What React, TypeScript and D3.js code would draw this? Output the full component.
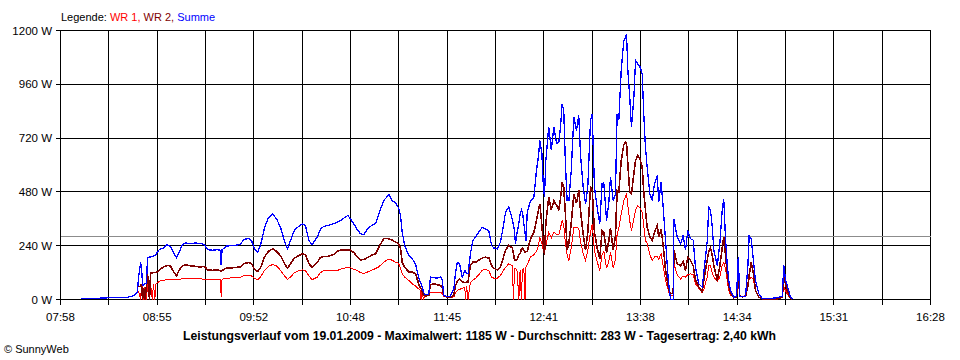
import React from "react";
import * as d3 from "d3";

// ---- data ----
const yTicks = [0, 240, 480, 720, 960, 1200];
const xTickLabels = ["07:58", "08:55", "09:52", "10:48", "11:45", "12:41", "13:38", "14:34", "15:31", "16:28"];
const axisStart = 478; // minutes since midnight (07:58)
const axisEnd = 988; // 16:28
const average = 283;
const title =
  "Leistungsverlauf vom 19.01.2009 - Maximalwert: 1185 W - Durchschnitt: 283 W - Tagesertrag: 2,40 kWh";
const legendParts = [
  { text: "Legende: ", color: "#000000" },
  { text: "WR 1, ", color: "#ff0000" },
  { text: "WR 2, ", color: "#800000" },
  { text: "Summe", color: "#0000ff" },
];

// time in minutes since midnight
const times = [
  490.3, 495.6, 501.4, 507.3, 513.2, 517.3, 520.2, 522.0, 523.1, 523.7, 524.9, 525.5, 526.1, 526.7, 527.5, 528.4,
  529.0, 530.2, 530.8, 531.8, 532.5, 533.3, 534.0, 535.4, 536.6, 538.4, 540.5, 542.5, 544.2, 546.0, 547.5, 549.5,
  551.3, 554.2, 557.1, 560.1, 562.4, 564.2, 567.1, 570.0, 571.8, 572.2, 572.7, 575.3, 579.4, 583.5, 585.3, 588.2,
  590.0, 591.7, 593.5, 595.2, 597.6, 599.9, 602.3, 604.6, 607.0, 609.3, 611.1, 612.8, 615.2, 617.5, 619.9, 621.6,
  623.6, 625.5, 628.5, 630.4, 632.2, 634.5, 638.0, 640.4, 642.1, 644.5, 646.4, 648.0, 649.9, 652.1, 653.9, 655.8,
  658.7, 660.9, 662.7, 664.6, 667.5, 669.1, 670.5, 672.4, 674.4, 676.1, 677.3, 678.3, 679.8, 682.2, 684.2, 686.1,
  687.7, 688.7, 689.4, 689.9, 690.8, 691.4, 692.0, 693.9, 694.9, 696.8, 698.8, 700.8, 701.8, 702.7, 704.7, 706.6,
  708.6, 709.6, 710.6, 711.9, 713.5, 715.0, 715.4, 716.0, 716.9, 718.3, 719.7, 721.3, 723.2, 725.2, 727.1, 729.1,
  730.7, 732.0, 734.0, 735.9, 737.3, 738.9, 740.8, 742.8, 743.6, 744.1, 744.7, 745.7, 746.7, 747.4, 748.2, 748.8,
  749.6, 750.3, 750.9, 751.6, 753.5, 755.5, 757.0, 758.2, 759.0, 760.2, 761.0, 761.7, 762.5, 764.2, 765.7, 767.2,
  768.8, 770.1, 771.1, 772.1, 773.0, 774.0, 775.0, 776.0, 777.4, 778.9, 780.5, 781.8, 782.8, 784.4, 785.8, 787.1,
  788.7, 789.7, 791.0, 792.6, 794.1, 795.5, 796.5, 798.1, 799.4, 800.4, 802.0, 803.3, 804.3, 805.3, 806.7, 808.2,
  809.2, 809.8, 810.6, 811.7, 812.7, 814.1, 815.1, 816.4, 817.6, 819.0, 819.9, 820.9, 821.9, 823.5, 824.9, 826.2,
  827.8, 828.7, 830.1, 831.3, 832.7, 834.0, 834.7, 835.6, 837.2, 837.6, 839.5, 841.5, 843.0, 844.4, 845.7, 847.3,
  848.9, 850.2, 852.2, 854.2, 855.1, 857.1, 858.0, 859.0, 860.0, 861.0, 863.0, 864.5, 865.9, 866.8, 867.8, 868.8,
  869.8, 870.8, 872.7, 874.3, 875.3, 876.2, 877.6, 879.6, 880.9, 881.7, 882.9, 884.1, 885.4, 887.4, 889.3, 894.2,
  898.1, 901.1, 902.0, 903.0, 904.0, 904.9, 905.9, 907.1,
];

// Summe (blue)
const summe = [
  4, 6, 6, 8, 8, 10, 15, 22, 35, 95, 160, 150, 62, 65, 70, 70,
  185, 190, 190, 192, 195, 198, 200, 219, 225, 228, 244, 235, 211, 186, 210, 245,
  252, 250, 252, 250, 245, 222, 220, 222, 220, 152, 222, 238, 241, 245, 268, 272,
  262, 226, 211, 240, 320, 365, 382, 360, 322, 260, 226, 263, 310, 325, 338, 330,
  263, 245, 278, 315, 325, 330, 338, 345, 352, 365, 375, 360, 338, 310, 293, 290,
  322, 332, 338, 382, 442, 455, 468, 442, 430, 410, 375, 300, 241, 196, 181, 159,
  107, 80, 70, 60, 33, 25, 21, 25, 100, 98, 95, 100, 85, 18, 12, 15,
  48, 122, 166, 160, 100, 129, 130, 115, 115, 204, 263, 278, 300, 322, 315, 305,
  241, 230, 226, 256, 315, 390, 412, 360, 330, 310, 250, 300, 340, 380, 400, 390,
  340, 300, 260, 390, 440, 456, 575, 640, 709, 650, 516, 456, 620, 769, 665, 769,
  695, 700, 770, 873, 843, 605, 442, 440, 575, 813, 754, 821, 650, 501, 427, 500,
  799, 828, 501, 412, 338, 516, 520, 352, 430, 546, 442, 470, 828, 800, 1022, 1155,
  1170, 1185, 1022, 902, 769, 902, 1066, 1051, 1040, 1007, 828, 680, 590, 471, 442, 516,
  553, 434, 523, 412, 263, 115, 60, 0, 0, 360, 278, 248, 285, 219, 308, 271,
  265, 144, 70, 55, 120, 260, 412, 400, 330, 219, 150, 248, 397, 449, 278, 160,
  80, 40, 10, 15, 189, 15, 12, 15, 144, 285, 270, 180, 85, 25, 5, 5,
  8, 15, 152, 90, 62, 40, 10, 2,
];

// WR 2 (dark red)
const wr2 = [
  null, null, null, null, null, null, null, null, null, 55, 60, 70, 0, 50, 0, 60,
  115, 0, 118, 118, 120, 120, 120, 125, 137, 145, 152, 150, 125, 105, 130, 150,
  155, 150, 148, 145, 148, 132, 130, 132, 128, 128, 130, 140, 142, 145, 160, 165,
  160, 135, 125, 140, 190, 215, 226, 215, 195, 160, 140, 160, 185, 195, 204, 200,
  160, 144, 165, 188, 192, 192, 200, 215, 220, 222, 222, 220, 210, 190, 177, 178,
  190, 200, 204, 233, 271, 272, 271, 265, 256, 250, 230, 166, 144, 122, 122, 115,
  77, 55, 48, 40, 18, 18, 15, 20, 66, 70, 66, 62, 55, 18, 10, 10,
  20, 62, 80, 92, 80, 75, 75, 78, 78, 152, 166, 166, 175, 185, 189, 185,
  152, 140, 132, 144, 180, 219, 241, 230, 200, 180, 174, 180, 200, 205, 225, 230,
  220, 210, 215, 215, 270, 300, 352, 400, 427, 330, 250, 200, 340, 456, 400, 440,
  420, 400, 450, 523, 500, 380, 220, 250, 340, 470, 430, 486, 400, 290, 220, 300,
  501, 490, 300, 230, 180, 308, 300, 210, 260, 320, 220, 280, 486, 480, 620, 690,
  702, 700, 600, 480, 471, 560, 620, 642, 630, 590, 480, 400, 322, 280, 263, 300,
  330, 280, 315, 240, 130, 70, 40, 25, 30, 219, 160, 150, 170, 130, 189, 175,
  150, 90, 55, 35, 85, 175, 215, 230, 200, 150, 85, 150, 230, 278, 200, 120,
  60, 30, 8, 10, 144, 15, 12, 15, 60, 110, 166, 120, 40, 10, 3, 2,
  3, 10, 100, 70, 40, 25, 5, 0,
];

// WR 1 (red)
const wr1 = [
  null, null, null, null, null, null, null, null, null, 40, 0, 60, 55, 0, 55, 0,
  65, 65, 68, 0, 70, 0, 72, 78, 85, 86, 88, 90, 90, 88, 90, 92,
  94, 95, 94, 92, 90, 88, 88, 88, 90, 10, 90, 95, 97, 100, 105, 108,
  105, 95, 88, 100, 130, 148, 156, 150, 130, 105, 90, 100, 120, 128, 132, 128,
  105, 88, 100, 120, 128, 130, 130, 130, 135, 140, 144, 142, 135, 129, 120, 115,
  125, 132, 138, 146, 166, 175, 181, 175, 166, 162, 140, 115, 100, 85, 70, 60,
  48, 45, 0, 40, 0, 18, 15, 18, 33, 33, 33, 30, 28, 15, 8, 8,
  12, 30, 40, 45, 50, 55, 0, 62, 0, 77, 85, 95, 110, 130, 135, 128,
  100, 95, 95, 107, 125, 144, 159, 150, 0, 140, 140, 125, 0, 130, 0, 135,
  140, 0, 150, 155, 189, 200, 215, 240, 278, 250, 220, 210, 240, 300, 275, 300,
  290, 290, 320, 352, 330, 250, 200, 174, 230, 320, 322, 318, 260, 205, 174, 220,
  300, 338, 220, 170, 129, 200, 215, 140, 170, 210, 140, 180, 293, 320, 380, 440,
  460, 471, 420, 350, 308, 360, 400, 419, 410, 390, 330, 263, 250, 200, 174, 190,
  190, 180, 204, 150, 85, 50, 30, 20, 20, 159, 110, 92, 105, 100, 110, 115,
  110, 70, 50, 30, 45, 100, 150, 152, 120, 100, 80, 100, 152, 166, 140, 85,
  40, 20, 8, 10, 80, 15, 12, 20, 50, 90, 100, 90, 40, 12, 3, 2,
  3, 10, 55, 40, 25, 15, 5, 0,
];

const FONT = "'Liberation Sans', Arial, sans-serif";

export default function App() {
  const W = 960;
  const H = 360;
  const x = d3.scaleLinear().domain([axisStart, axisEnd]).range([60.5, 930.5]);
  const y = d3.scaleLinear().domain([0, 1200]).range([299.5, 30.5]);
  const tickCount = 18;
  const tickMinutes = d3.range(tickCount + 1).map((i) => axisStart + (i * (axisEnd - axisStart)) / tickCount);

  const makeLine = (vals: (number | null)[]) =>
    d3
      .line<number>()
      .defined((_, i) => vals[i] != null)
      .x((t) => x(t))
      .y((_, i) => y(vals[i] as number))(times) || "";

  const series = [
    { vals: wr1, color: "#ff0000", width: 1 },
    { vals: wr2, color: "#800000", width: 1.6 },
    { vals: summe, color: "#0000ff", width: 1.3 },
  ];

  return (
    <svg
      width={W}
      height={H}
      style={{ position: "fixed", left: 0, top: 0, background: "#fff" }}
      fontFamily={FONT}
    >
      <rect x={0} y={0} width={W} height={H} fill="#fff" />
      {/* legend */}
      <text x={61} y={20.5} fontSize={11} xmlSpace="preserve" style={{ whiteSpace: "pre" }}>
        {legendParts.map((p, i) => (
          <tspan key={i} fill={p.color}>
            {p.text}
          </tspan>
        ))}
      </text>

      {/* vertical gridlines */}
      {tickMinutes.map((t, i) => (
        <line
          key={"vg" + i}
          x1={x(t)}
          x2={x(t)}
          y1={y(1200)}
          y2={y(0) + 5}
          stroke="#000"
          strokeWidth={1}
          shapeRendering="crispEdges"
        />
      ))}
      {/* horizontal gridlines */}
      {yTicks.map((v) => (
        <line
          key={"hg" + v}
          x1={x(axisStart) - 5}
          x2={x(axisEnd)}
          y1={y(v)}
          y2={y(v)}
          stroke="#000"
          strokeWidth={1}
          shapeRendering="crispEdges"
        />
      ))}
      {/* average line */}
      <line
        x1={x(axisStart)}
        x2={x(axisEnd)}
        y1={y(average)}
        y2={y(average)}
        stroke="#8c8c8c"
        strokeWidth={1}
        shapeRendering="crispEdges"
      />

      {/* series */}
      {series.map((s, i) => (
        <path
          key={"s" + i}
          d={makeLine(s.vals)}
          fill="none"
          stroke={s.color}
          strokeWidth={s.width}
          strokeLinejoin="miter"
          shapeRendering="crispEdges"
        />
      ))}

      {/* y labels */}
      {yTicks.map((v) => (
        <text key={"yl" + v} x={52} y={y(v) + 4} fontSize={11.5} textAnchor="end" fill="#000">
          {v + " W"}
        </text>
      ))}
      {/* x labels */}
      {xTickLabels.map((lab, i) => (
        <text
          key={"xl" + i}
          x={x(tickMinutes[i * 2])}
          y={320.5}
          fontSize={11.5}
          textAnchor="middle"
          fill="#000"
        >
          {lab}
        </text>
      ))}

      {/* title */}
      <text
        x={479.5}
        y={340}
        fontSize={12}
        fontWeight="bold"
        textAnchor="middle"
        fill="#000"
        textLength={593}
        lengthAdjust="spacingAndGlyphs"
      >
        {title}
      </text>
      <text x={4} y={353} fontSize={11} fill="#000">
        {"© SunnyWeb"}
      </text>
    </svg>
  );
}
